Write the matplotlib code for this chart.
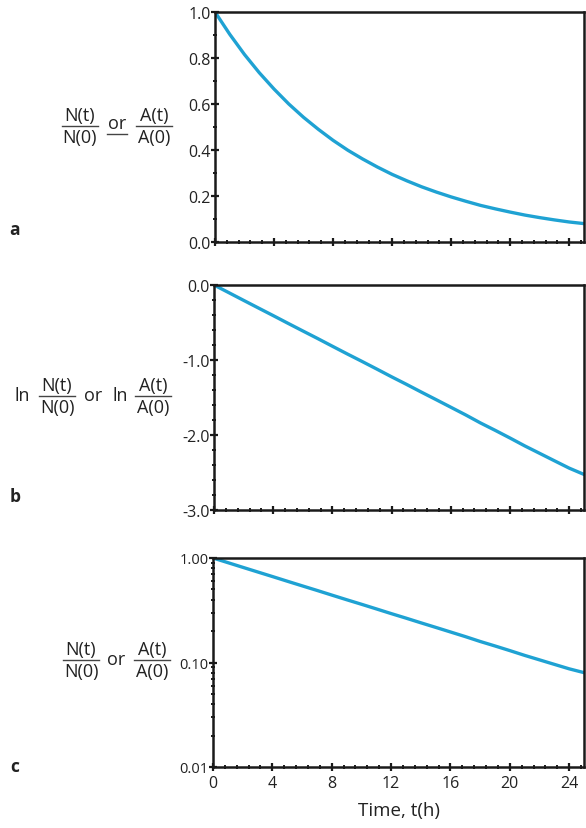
import matplotlib
matplotlib.use('Agg')
import matplotlib.pyplot as plt
from matplotlib.ticker import MultipleLocator, FixedLocator, LogLocator, NullFormatter
from matplotlib.lines import Line2D
import numpy as np

plt.rcParams['font.family'] = ['Open Sans', 'DejaVu Sans']

# data (fraction remaining vs time)
time_h = list(range(26))
ratio = [1.000, 0.903, 0.815, 0.736, 0.665, 0.600, 0.542, 0.490, 0.442,
         0.399, 0.361, 0.326, 0.294, 0.266, 0.240, 0.217, 0.196, 0.177,
         0.159, 0.144, 0.130, 0.117, 0.106, 0.096, 0.087, 0.080]
x_ticks = [0, 4, 8, 12, 16, 20, 24]
a_ticks = [0.0, 0.2, 0.4, 0.6, 0.8, 1.0]
b_ticks = [0.0, -1.0, -2.0, -3.0]
c_ticks = [0.01, 0.10, 1.00]
c_labels = ['0.01', '0.10', '1.00']

LINE = '#1fa2d3'
AX = '#1a1a1a'
TXT = '#222222'
W, H = 586, 829

fig = plt.figure(figsize=(W / 100, H / 100), dpi=100, facecolor='white')


def box(l, t, r, b):
    return [l / W, 1 - b / H, (r - l) / W, (b - t) / H]


def put(x, y, s, size=13, **kw):
    fig.text(x / W, 1 - y / H, s, fontsize=size, color=TXT,
             ha='center', va='center', **kw)


def frac(x, ybar, top, bot, half=18):
    put(x, ybar - 11, top)
    put(x, ybar + 11, bot)
    fig.add_artist(Line2D([(x - half) / W, (x + half) / W],
                          [1 - ybar / H, 1 - ybar / H], color='#444444', lw=1))


ax_a = fig.add_axes(box(215, 13, 584, 243))
ax_b = fig.add_axes(box(214, 286, 584, 511))
ax_c = fig.add_axes(box(213, 559, 584, 768))

t = np.array(time_h)
r = np.array(ratio)
ax_a.plot(t, r, color=LINE, lw=2.4, solid_capstyle='round')
ax_b.plot(t, np.log(r), color=LINE, lw=2.4, solid_capstyle='round')
ax_c.plot(t, r, color=LINE, lw=2.4, solid_capstyle='round')

ax_a.set_ylim(0, 1.0)
ax_a.yaxis.set_major_locator(FixedLocator(a_ticks))
ax_a.yaxis.set_minor_locator(MultipleLocator(0.1))
ax_a.set_yticklabels([f'{v:.1f}' for v in a_ticks])

ax_b.set_ylim(-3.0, 0.0)
ax_b.yaxis.set_major_locator(FixedLocator(b_ticks))
ax_b.yaxis.set_minor_locator(MultipleLocator(0.2))
ax_b.set_yticklabels(['0.0', '-1.0', '-2.0', '-3.0'])

ax_c.set_yscale('log')
ax_c.set_ylim(0.01, 1.0)
ax_c.yaxis.set_major_locator(FixedLocator(c_ticks))
ax_c.yaxis.set_minor_locator(LogLocator(base=10, subs=np.arange(2, 10)))
ax_c.yaxis.set_minor_formatter(NullFormatter())
ax_c.set_yticklabels(c_labels)

for ax in (ax_a, ax_b, ax_c):
    ax.set_xlim(0, 25)
    ax.xaxis.set_major_locator(FixedLocator(x_ticks))
    ax.xaxis.set_minor_locator(MultipleLocator(0.8))
    for s in ax.spines.values():
        s.set_color(AX)
        s.set_linewidth(1.8)
    ax.tick_params(which='major', direction='inout', length=6, width=1.6,
                   color=AX, labelsize=11.5, labelcolor=TXT, pad=1)
    ax.tick_params(which='minor', direction='inout', length=3, width=1.4, color=AX)
    ax.tick_params(axis='y', which='major', pad=0)

ax_c.tick_params(axis='y', labelsize=10.5)
ax_a.tick_params(axis='x', labelbottom=False)
ax_b.tick_params(axis='x', labelbottom=False)
ax_c.tick_params(axis='x', pad=3)
ax_c.set_xlabel('Time, t(h)', fontsize=13.5, color=TXT, labelpad=7)

# panel a label
frac(80, 127, 'N(t)', 'N(0)')
put(117, 124, 'or')
fig.add_artist(Line2D([107 / W, 127 / W], [1 - 135 / H, 1 - 135 / H], color='#444444', lw=1))
frac(154, 127, 'A(t)', 'A(0)')

# panel b label
put(22, 396, 'ln')
frac(57, 397, 'N(t)', 'N(0)')
put(93, 396, 'or')
put(120, 396, 'ln')
frac(153, 397, 'A(t)', 'A(0)')

# panel c label
frac(81, 661, 'N(t)', 'N(0)')
put(116, 660, 'or')
frac(152, 661, 'A(t)', 'A(0)')

for letter, y in (('a', 230), ('b', 497), ('c', 767)):
    put(15, y, letter, size=12.5, fontweight='bold')

fig.savefig('out.png', dpi=100, facecolor='white')
